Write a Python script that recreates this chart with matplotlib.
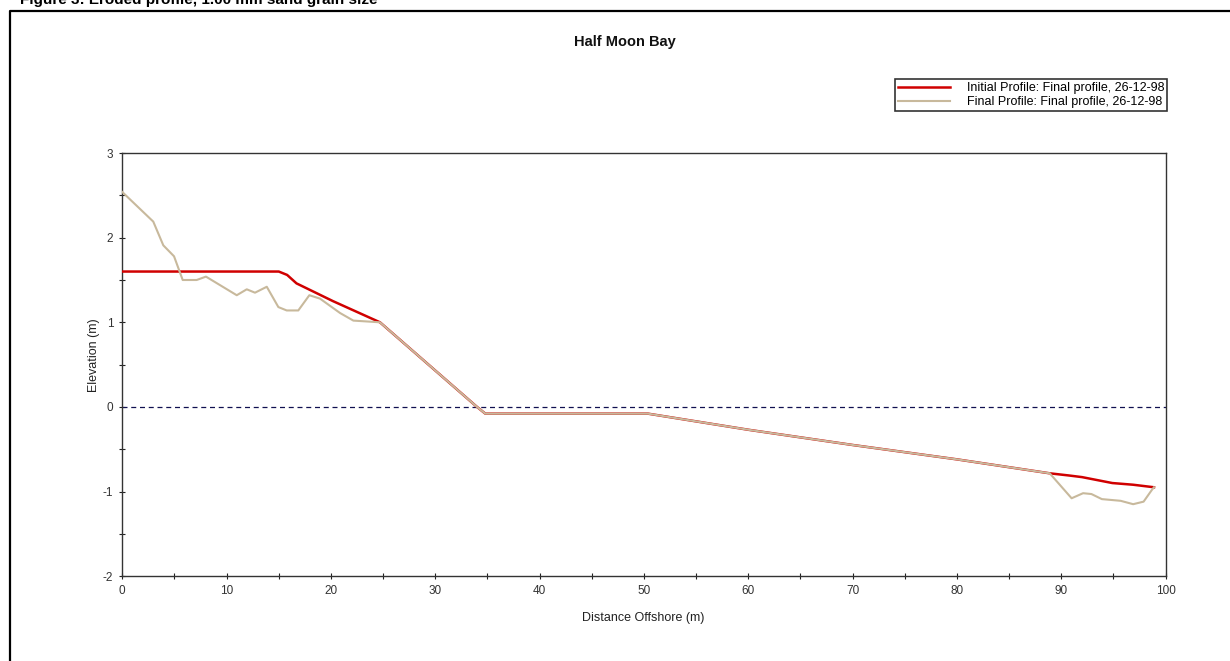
import matplotlib
matplotlib.use("Agg")
import matplotlib.pyplot as plt
from matplotlib.lines import Line2D
from matplotlib.ticker import MultipleLocator

# profile data (distance offshore m, elevation m)
init_x = [0, 15, 15.8, 16.7, 20.2, 24.7, 34.0, 34.8, 50.4, 60, 70, 80, 88.9,
          90.7, 92.0, 94.9, 96.9, 98.9]
init_y = [1.6, 1.6, 1.56, 1.46, 1.25, 1.0, 0.0, -0.08, -0.08, -0.27, -0.45,
          -0.62, -0.785, -0.81, -0.83, -0.90, -0.92, -0.95]

final_x = [0, 2.97, 3.93, 4.96, 5.79, 7.13, 8.02, 10.97, 11.93, 12.72, 13.85,
           14.96, 15.76, 16.87, 17.93, 18.95, 20.87, 22.15, 23.43, 24.7, 34.0,
           34.8, 50.4, 60, 70, 80, 88.9, 91.0, 92.1, 92.9, 93.9, 95.7, 96.9,
           97.9, 98.7, 98.9]
final_y = [2.54, 2.19, 1.91, 1.78, 1.50, 1.50, 1.54, 1.32, 1.39, 1.35, 1.42,
           1.18, 1.14, 1.14, 1.32, 1.28, 1.11, 1.02, 1.01, 1.0, 0.0, -0.08,
           -0.08, -0.27, -0.45, -0.62, -0.785, -1.08, -1.02, -1.03, -1.09,
           -1.11, -1.15, -1.12, -0.98, -0.95]

init_label = "Initial Profile: Final profile, 26-12-98"
final_label = "Final Profile: Final profile, 26-12-98"

W, H = 1230, 661
plt.rcParams["font.family"] = ["Liberation Sans", "DejaVu Sans"]
plt.rcParams["axes.unicode_minus"] = False

fig = plt.figure(figsize=(W / 100, H / 100), dpi=100)
fig.patch.set_facecolor("white")

# axes placed in pixel terms
left, right, top, bottom = 122.3, 1165.5, 153.1, 576.1
ax = fig.add_axes([left / W, 1 - bottom / H, (right - left) / W, (bottom - top) / H])

ax.plot(init_x, init_y, color="#d00000", lw=1.8, label=init_label, zorder=3)
ax.plot(final_x, final_y, color="#c8b99c", lw=1.5, label=final_label, zorder=4)
ax.axhline(0, color="#101050", lw=0.9, ls=(0, (4, 3)), zorder=2)

ax.set_xlim(0, 100)
ax.set_ylim(-2, 3)
ax.xaxis.set_major_locator(MultipleLocator(10))
ax.xaxis.set_minor_locator(MultipleLocator(5))
ax.yaxis.set_major_locator(MultipleLocator(1))
ax.yaxis.set_minor_locator(MultipleLocator(0.5))
ax.tick_params(which="both", direction="inout", length=5, width=0.8,
               color="#222222", labelsize=8.5, labelcolor="#333333", pad=4)
for s in ax.spines.values():
    s.set_color("#333333")
    s.set_linewidth(1.0)

ax.set_xlabel("Distance Offshore (m)", fontsize=9, color="#222222")
ax.set_ylabel("Elevation (m)", fontsize=9, color="#222222")
ax.xaxis.set_label_coords((643 - left) / (right - left), (bottom - 612) / (bottom - top))
ax.yaxis.set_label_coords((100 - left) / (right - left), (bottom - 355) / (bottom - top))

leg = ax.legend(loc="upper right", bbox_to_anchor=(1167.3 / W, 1 - 79 / H),
                bbox_transform=fig.transFigure, frameon=True, fancybox=False,
                prop={"size": 9}, handlelength=4.2, handletextpad=1.3,
                borderpad=0.25, labelspacing=0.15, borderaxespad=0)
leg.get_frame().set_edgecolor("black")
leg.get_frame().set_linewidth(1.2)

fig.text(625 / W, 1 - 42 / H, "Half Moon Bay", ha="center", va="center",
         fontsize=10.5, fontweight="bold", color="#111111")

# caption that is cut off at the top edge, as in the source
fig.text(20 / W, 1 - 4 / H, "Figure 3: Eroded profile, 1.00 mm sand grain size",
         ha="left", va="baseline", fontsize=11, fontweight="bold", color="black")

# outer frame, only left and top edges visible
fig.add_artist(Line2D([9.5 / W, 9.5 / W, 1.0], [0.0, 1 - 10.5 / H, 1 - 10.5 / H],
                      transform=fig.transFigure, color="black", lw=1.6))

fig.savefig("out.png", dpi=100)
